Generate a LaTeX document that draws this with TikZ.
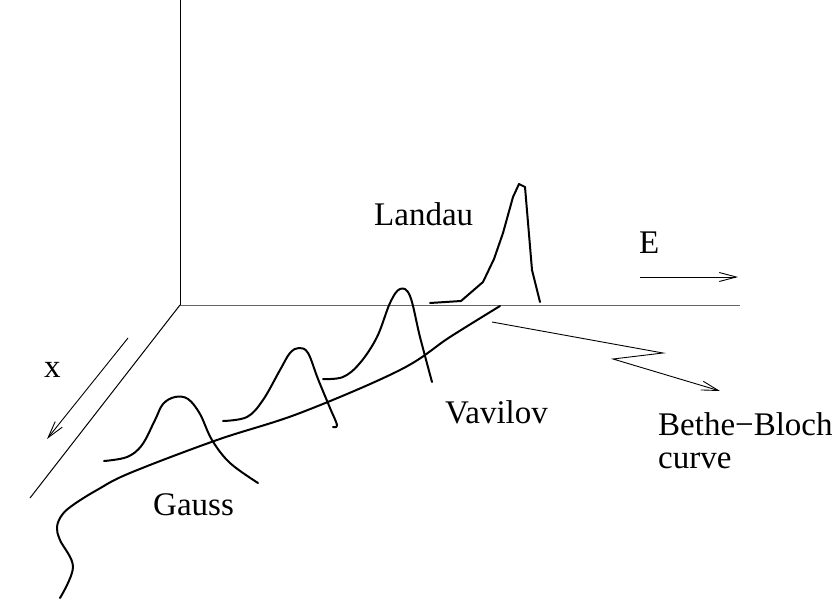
\documentclass[tikz,border=0pt]{standalone}
\usepackage{fontspec}
\setmainfont{Liberation Serif}
\usetikzlibrary{arrows.meta}
\begin{document}
\begin{tikzpicture}[x=1pt,y=-1pt,
  axis/.style={line width=1pt},
  curvep/.style={line width=2pt, line join=round, line cap=round},
  thinarrow/.style={line width=0.9pt, -{Straight Barb[length=17pt,width=9pt]}},
  lbl/.style={anchor=base west, inner sep=0pt, font=\fontsize{33}{33}\selectfont}]
\useasboundingbox (0,0) rectangle (834,602);
% axes
\coordinate (O) at (180,305);
\coordinate (Ztop) at (180,0);
\coordinate (Eend) at (740,305);
\coordinate (Xend) at (30,498);
\draw[axis] (O) -- (Ztop);
\draw[axis, black!60] (O) -- (Eend);
\draw[axis] (O) -- (Xend);
% direction arrows
\coordinate (xa) at (128,338);
\coordinate (xb) at (47,439);
\draw[thinarrow] (xa) -- (xb);
\node[lbl] (xl) at (44,377) {x};
\coordinate (ea) at (640,277);
\coordinate (eb) at (738,277);
\draw[thinarrow] (ea) -- (eb);
\node[lbl] (el) at (639,253) {E};
% Bethe-Bloch curve
\draw[curvep] plot[smooth, tension=0.6] coordinates {(60,598) (73,567) (60,540) (57,527) (62,515) (73,505) (97,490) (130,473) (217,440) (300,413) (400,370) (450,337) (500,306)};
% Gauss
\draw[curvep] plot[smooth, tension=0.6] coordinates {(104,461) (127,457) (142,445) (155,420) (163,404) (175,397) (188,399) (200,414) (212,440) (230,463) (258,483)};
% second peak
\draw[curvep] plot[smooth, tension=0.6] coordinates {(223,421) (247,417) (263,400) (280,370) (290,353) (299,348) (308,353) (318,379) (330,408) (337,425) (333,427)};
% Vavilov peak
\draw[curvep] plot[smooth, tension=0.6] coordinates {(323,379) (343,377) (360,363) (377,337) (390,303) (400,289) (410,296) (420,337) (432,382)};
% Landau (polyline)
\draw[curvep] (430,303) -- (461,301) -- (483,282) -- (494,259) -- (503,233) -- (513,197) -- (519,184) -- (525,187) -- (532,270) -- (540,302);
% labels
\node[lbl] (landau) at (374,225) {Landau};
\node[lbl] (vavilov) at (445,423) {Vavilov};
\node[lbl] (gauss) at (153,515) {Gauss};
\node[lbl] (bb1) at (658,435) {Bethe−Bloch};
\node[lbl] (bb2) at (658,468) {curve};
% Bethe-Bloch pointer
\coordinate (p1) at (492,322);
\coordinate (p2) at (663,353);
\coordinate (p3) at (613,359);
\coordinate (p4) at (720,391);
\draw[thinarrow] (p1) -- (p2) -- (p3) -- (p4);
\end{tikzpicture}
\end{document}
